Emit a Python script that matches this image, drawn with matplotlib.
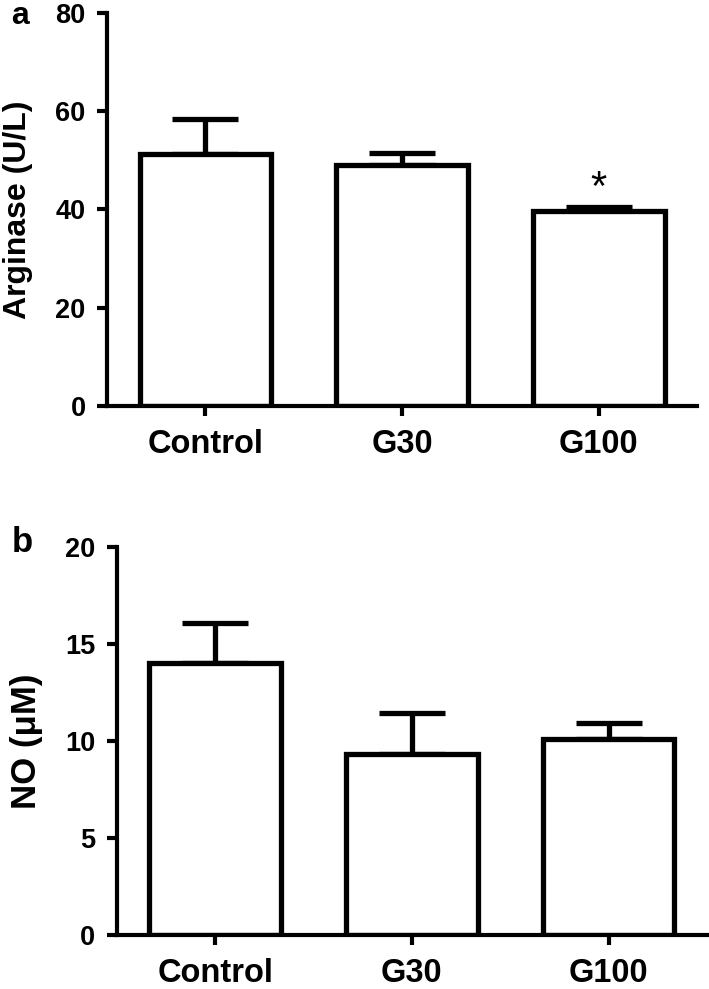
import matplotlib
matplotlib.use("Agg")
import matplotlib.pyplot as plt

plt.rcParams["font.family"] = ["Liberation Sans", "DejaVu Sans"]
plt.rcParams["font.weight"] = "bold"

groups = ["Control", "G30", "G100"]

arginase_mean = [51.3, 49.1, 39.7]
arginase_sem = [7.1, 2.4, 0.8]
arginase_sig = ["", "", "*"]

no_mean = [14.0, 9.35, 10.1]
no_sem = [2.1, 2.1, 0.85]

LW = 3.8


def draw_panel(ax, means, errs, ylim, yticks, ylabel, labelsize):
    x = list(range(len(groups)))
    ax.bar(x, means, width=0.67, color="white", edgecolor="black",
           linewidth=LW, zorder=3)
    ax.errorbar(x, means, yerr=[[0] * len(errs), errs], fmt="none",
                ecolor="black", elinewidth=LW, capsize=24, capthick=LW,
                zorder=2)
    ax.set_xlim(-0.5, 2.5)
    ax.set_ylim(*ylim)
    ax.set_yticks(yticks)
    ax.set_xticks(x)
    ax.set_xticklabels(groups, fontsize=23.5, fontweight="bold")
    for lab in ax.get_yticklabels():
        lab.set_fontsize(19.5)
        lab.set_fontweight("bold")
    ax.set_ylabel(ylabel, fontsize=labelsize, fontweight="bold", labelpad=16)
    for s in ("top", "right"):
        ax.spines[s].set_visible(False)
    for s in ("left", "bottom"):
        ax.spines[s].set_linewidth(3.0)
        ax.spines[s].set_zorder(4)
    ax.tick_params(axis="both", width=3.0, length=7.5)
    ax.tick_params(axis="y", pad=8)
    ax.tick_params(axis="x", pad=9)


fig = plt.figure(figsize=(7.09, 9.89), dpi=100)

ax_a = fig.add_axes([0.151, 0.5895, 0.832, 0.3974])
draw_panel(ax_a, arginase_mean, arginase_sem, (0, 80), [0, 20, 40, 60, 80],
           "Arginase (U/L)", 23)
for i, (m, e, s) in enumerate(zip(arginase_mean, arginase_sem, arginase_sig)):
    if s:
        ax_a.text(i, m + e + 1.4, s, ha="center", va="baseline", fontsize=30,
                  fontweight="normal")

ax_b = fig.add_axes([0.165, 0.0546, 0.832, 0.3923])
draw_panel(ax_b, no_mean, no_sem, (0, 20), [0, 5, 10, 15, 20],
           "NO (\u03bcM)", 25)

fig.text(0.028, 1 - 24 / 989, "a", fontsize=23, fontweight="bold",
         ha="center", va="baseline")
fig.text(0.031, 1 - 552 / 989, "b", fontsize=25, fontweight="bold",
         ha="center", va="baseline")

fig.savefig("out.png", dpi=100)
